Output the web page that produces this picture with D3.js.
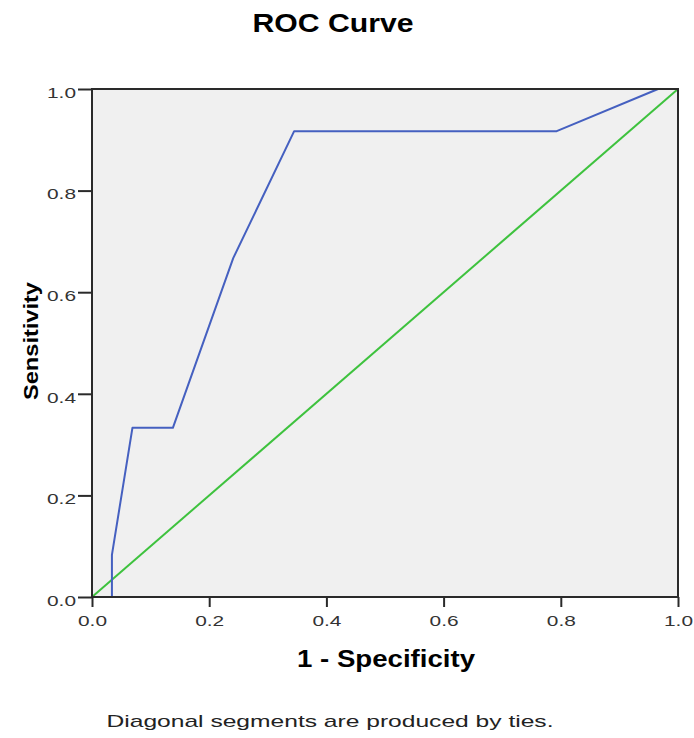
<!DOCTYPE html>
<html>
<head>
<meta charset="utf-8">
<script src="https://cdn.jsdelivr.net/npm/d3@7"></script>
<style>
  body { margin: 0; background: #fff; }
  text { font-family: "Liberation Sans", Arial, sans-serif; }
</style>
</head>
<body>
<div id="content"></div>
<script>
// ROC points (1 - specificity, sensitivity)
var fpr = [0, 0.034, 0.034, 0.069, 0.138, 0.241, 0.345, 0.793, 0.966, 1];
var tpr = [0, 0, 0.083, 0.333, 0.333, 0.667, 0.917, 0.917, 1, 1];
// reference diagonal
var refX = [0, 1];
var refY = [0, 1];
var tickVals = [0, 0.2, 0.4, 0.6, 0.8, 1.0];

var width = 694, height = 738;
var plot = { left: 92, right: 678, top: 89, bottom: 597 };

var svg = d3.select("#content").append("svg")
    .attr("width", width)
    .attr("height", height);

var xScale = d3.scaleLinear().domain([0, 1]).range([plot.left, plot.right]);
var yScale = d3.scaleLinear().domain([0, 1]).range([plot.bottom, plot.top]);

// stretch text along its direction to match the wide lettering of the original
function fit(sel, len) {
    sel.attr("textLength", len).attr("lengthAdjust", "spacingAndGlyphs");
}

svg.append("rect")
    .attr("x", plot.left).attr("y", plot.top)
    .attr("width", plot.right - plot.left)
    .attr("height", plot.bottom - plot.top)
    .attr("fill", "#f0f0f0");

var line = d3.line()
    .x(function (d) { return xScale(d[0]); })
    .y(function (d) { return yScale(d[1]); });

var refData = refX.map(function (v, i) { return [v, refY[i]]; });
var rocData = fpr.map(function (v, i) { return [v, tpr[i]]; });

svg.append("path")
    .datum(refData)
    .attr("d", line)
    .attr("fill", "none")
    .attr("stroke", "#3ec23e")
    .attr("stroke-width", 2);

svg.append("path")
    .datum(rocData)
    .attr("d", line)
    .attr("fill", "none")
    .attr("stroke", "#4560c0")
    .attr("stroke-width", 2)
    .attr("stroke-linejoin", "round");

// frame
svg.append("rect")
    .attr("x", plot.left).attr("y", plot.top)
    .attr("width", plot.right - plot.left)
    .attr("height", plot.bottom - plot.top)
    .attr("fill", "none")
    .attr("stroke", "#2a2a2a")
    .attr("stroke-width", 2);

var fmt = d3.format(".1f");

var xAxis = d3.axisBottom(xScale).tickValues(tickVals).tickFormat(fmt)
    .tickSize(10).tickSizeOuter(0).tickPadding(8);
var yAxis = d3.axisLeft(yScale).tickValues(tickVals).tickFormat(fmt)
    .tickSize(14).tickSizeOuter(0).tickPadding(2);

var gx = svg.append("g")
    .attr("transform", "translate(0," + plot.bottom + ")")
    .call(xAxis);
var gy = svg.append("g")
    .attr("transform", "translate(" + plot.left + ",0)")
    .call(yAxis);

[gx, gy].forEach(function (g) {
    g.select(".domain").remove();
    g.selectAll(".tick line").attr("stroke", "#2a2a2a").attr("stroke-width", 2);
    g.selectAll(".tick text")
        .attr("fill", "#333")
        .style("font-size", "15px")
        .call(fit, 29);
});
gy.selectAll(".tick text").attr("dy", "0.55em");

svg.append("text")
    .attr("x", 333).attr("y", 32)
    .attr("text-anchor", "middle")
    .style("font-size", "25px")
    .style("font-weight", "bold")
    .text("ROC Curve")
    .call(fit, 161);

svg.append("text")
    .attr("x", 386).attr("y", 667)
    .attr("text-anchor", "middle")
    .style("font-size", "23px")
    .style("font-weight", "bold")
    .text("1 - Specificity")
    .call(fit, 178);

svg.append("text")
    .attr("transform", "translate(38,341) rotate(-90)")
    .attr("text-anchor", "middle")
    .style("font-size", "21px")
    .style("font-weight", "bold")
    .text("Sensitivity")
    .call(fit, 118);

svg.append("text")
    .attr("x", 330).attr("y", 727)
    .attr("text-anchor", "middle")
    .attr("fill", "#222")
    .style("font-size", "17px")
    .text("Diagonal segments are produced by ties.")
    .call(fit, 447);
</script>
</body>
</html>
